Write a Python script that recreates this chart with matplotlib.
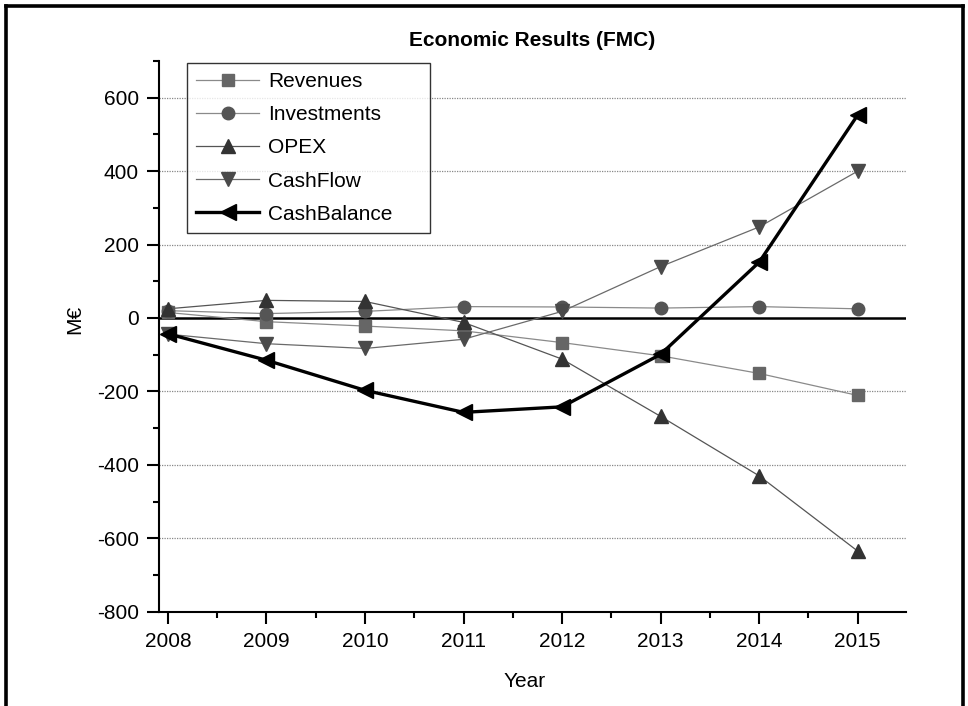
import matplotlib
matplotlib.use("Agg")
import matplotlib.pyplot as plt
from matplotlib.lines import Line2D
from matplotlib.ticker import MultipleLocator

plt.rcParams['font.family'] = ['Liberation Sans', 'DejaVu Sans']
plt.rcParams['axes.unicode_minus'] = False

years = [2008, 2009, 2010, 2011, 2012, 2013, 2014, 2015]
revenues = [15, -10, -22, -35, -67, -103, -151, -211]
investments = [20, 12, 18, 31, 30, 27, 31, 25]
opex = [25, 48, 45, -12, -112, -268, -430, -635]
cashflow = [-44, -70, -83, -58, 18, 140, 248, 400]
cashbalance = [-43, -115, -197, -257, -242, -99, 152, 553]

yticks = [-800, -600, -400, -200, 0, 200, 400, 600]

fig = plt.figure(figsize=(9.68, 7.06), dpi=100)
ax = fig.add_axes([159/968, (706-611.7)/706, (906-159)/968, (611.7-61)/706])

ax.set_xlim(2007.91, 2015.49)
ax.set_ylim(-800, 700)

for y in yticks:
    if y != 0:
        ax.axhline(y, color='#888888', lw=0.9, ls=(0, (1, 1)), zorder=1)
ax.axhline(0, color='black', lw=1.8, zorder=2)

ax.plot(years, revenues, color='#8a8a8a', lw=0.9, marker='s', ms=8.5,
        mfc='#666666', mec='#666666', label='Revenues', zorder=3)
ax.plot(years, investments, color='#8a8a8a', lw=0.9, marker='o', ms=9,
        mfc='#555555', mec='#555555', label='Investments', zorder=3)
ax.plot(years, opex, color='#555555', lw=0.9, marker='^', ms=10.5,
        mfc='#333333', mec='#333333', label='OPEX', zorder=3)
ax.plot(years, cashflow, color='#6a6a6a', lw=0.9, marker='v', ms=10.5,
        mfc='#4a4a4a', mec='#4a4a4a', label='CashFlow', zorder=3)
ax.plot(years, cashbalance, color='black', lw=2.4, marker='<', ms=12,
        mfc='black', mec='black', label='CashBalance', zorder=4)

ax.set_yticks(yticks)
ax.yaxis.set_minor_locator(MultipleLocator(100))
ax.set_xticks(years)
ax.set_xticklabels([str(y) for y in years])
ax.xaxis.set_minor_locator(MultipleLocator(0.5))

for s in ['top', 'right']:
    ax.spines[s].set_visible(False)
for s in ['left', 'bottom']:
    ax.spines[s].set_linewidth(1.5)
    ax.spines[s].set_color('black')

ax.tick_params(axis='both', which='major', direction='out', length=8.5, width=1.5,
               labelsize=15, color='black')
ax.tick_params(axis='both', which='minor', direction='out', length=4.5, width=1.5,
               color='black')
ax.tick_params(axis='y', which='major', pad=6)
ax.tick_params(axis='x', which='major', pad=6)

ax.set_xlabel('Year', fontsize=15)
ax.set_ylabel('M€', fontsize=15)
ax.xaxis.set_label_coords(0.49, -0.11)
ax.yaxis.set_label_coords(-0.1, 0.53)

ax.set_title('Economic Results (FMC)', fontsize=15, fontweight='bold', pad=11)

leg = ax.legend(loc='upper left', bbox_to_anchor=(0.0375, 0.997, 0.325, 0.0),
                mode='expand', borderaxespad=0,
                fontsize=15, frameon=True, fancybox=False, handlelength=3.0,
                handletextpad=0.45, labelspacing=0.68, borderpad=0.45)
leg.get_frame().set_edgecolor('black')
leg.get_frame().set_linewidth(1.0)

# outer frame (left, top, right)
lw = 2.6
fig.add_artist(Line2D([6/968, 6/968], [0, 1 - 6/706], transform=fig.transFigure,
                      color='black', lw=lw))
fig.add_artist(Line2D([6/968, 963/968], [1 - 6/706, 1 - 6/706], transform=fig.transFigure,
                      color='black', lw=lw))
fig.add_artist(Line2D([963/968, 963/968], [0, 1 - 6/706], transform=fig.transFigure,
                      color='black', lw=lw))

fig.savefig('out.png', dpi=100)
